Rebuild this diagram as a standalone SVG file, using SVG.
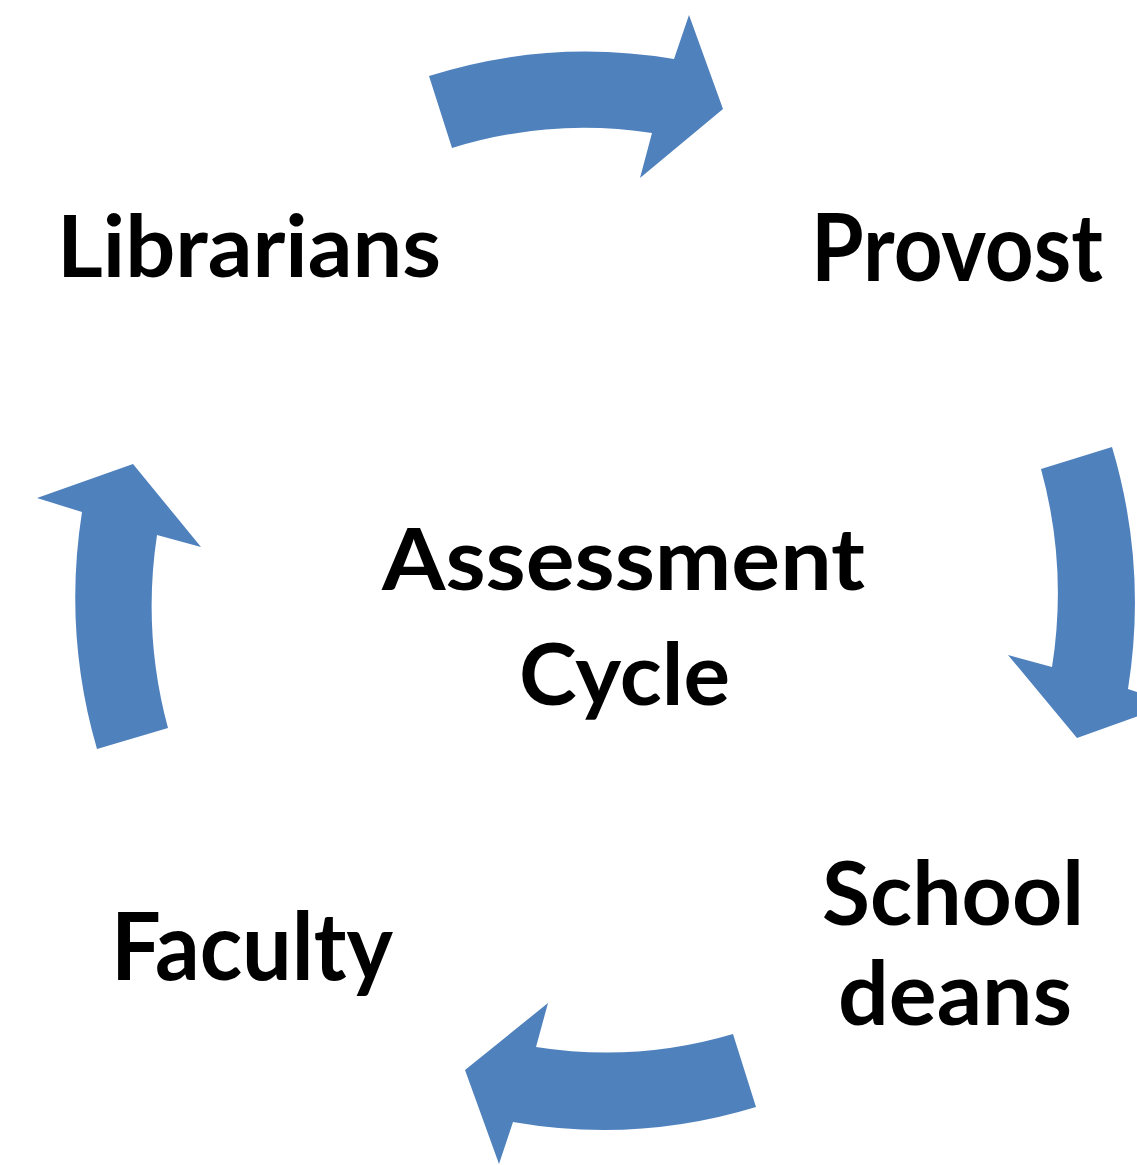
<svg xmlns="http://www.w3.org/2000/svg" width="1137" height="1165" viewBox="0 0 1137 1165">
  <style>
    .lbl { font-family: Lato, "Open Sans", "Liberation Sans", sans-serif; font-weight: bold; fill: #000000; }
    .arrow { fill: #4F81BD; stroke: none; }
  </style>
  <rect x="0" y="0" width="1137" height="1165" fill="#FFFFFF"/>
  <g id="connectors">
    <path id="arrow-librarians-provost" class="arrow" d="M 429,76 A 530 538 0 0 1 674,59 L 689,15 L 723,109 L 640,178 L 652,133 A 454 462 0 0 0 452,148 Z"/>
    <path id="arrow-provost-deans" class="arrow" d="M 1112,447 A 530 538 0 0 1 1128,689 L 1172,704 L 1077,738 L 1008,655 L 1052,667 A 454 462 0 0 0 1041,469 Z"/>
    <path id="arrow-deans-faculty" class="arrow" d="M 756,1107 A 530 538 0 0 1 513,1122 L 499,1164 L 465,1070 L 548,1003 L 536,1047 A 454 462 0 0 0 733,1034 Z"/>
    <path id="arrow-faculty-librarians" class="arrow" d="M 97,749 A 530 538 0 0 1 82,512 L 37,498 L 133,464 L 201,547 L 157,535 A 454 462 0 0 0 168,728 Z"/>
  </g>
  <g id="node-librarians">
    <text class="lbl" x="57" y="277" font-size="86" textLength="384" lengthAdjust="spacingAndGlyphs">Librarians</text>
  </g>
  <g id="node-provost">
    <text class="lbl" x="811" y="281" font-size="94" textLength="292" lengthAdjust="spacingAndGlyphs">Provost</text>
  </g>
  <g id="node-center">
    <text class="lbl" x="382" y="590" font-size="86" textLength="483" lengthAdjust="spacingAndGlyphs">Assessment</text>
    <text class="lbl" x="519" y="705" font-size="86" textLength="211" lengthAdjust="spacingAndGlyphs">Cycle</text>
  </g>
  <g id="node-school-deans">
    <text class="lbl" x="822" y="925" font-size="88" textLength="262" lengthAdjust="spacingAndGlyphs">School</text>
    <text class="lbl" x="838" y="1025" font-size="88" textLength="234" lengthAdjust="spacingAndGlyphs">deans</text>
  </g>
  <g id="node-faculty">
    <text class="lbl" x="111" y="980" font-size="94" textLength="282" lengthAdjust="spacingAndGlyphs">Faculty</text>
  </g>
</svg>
